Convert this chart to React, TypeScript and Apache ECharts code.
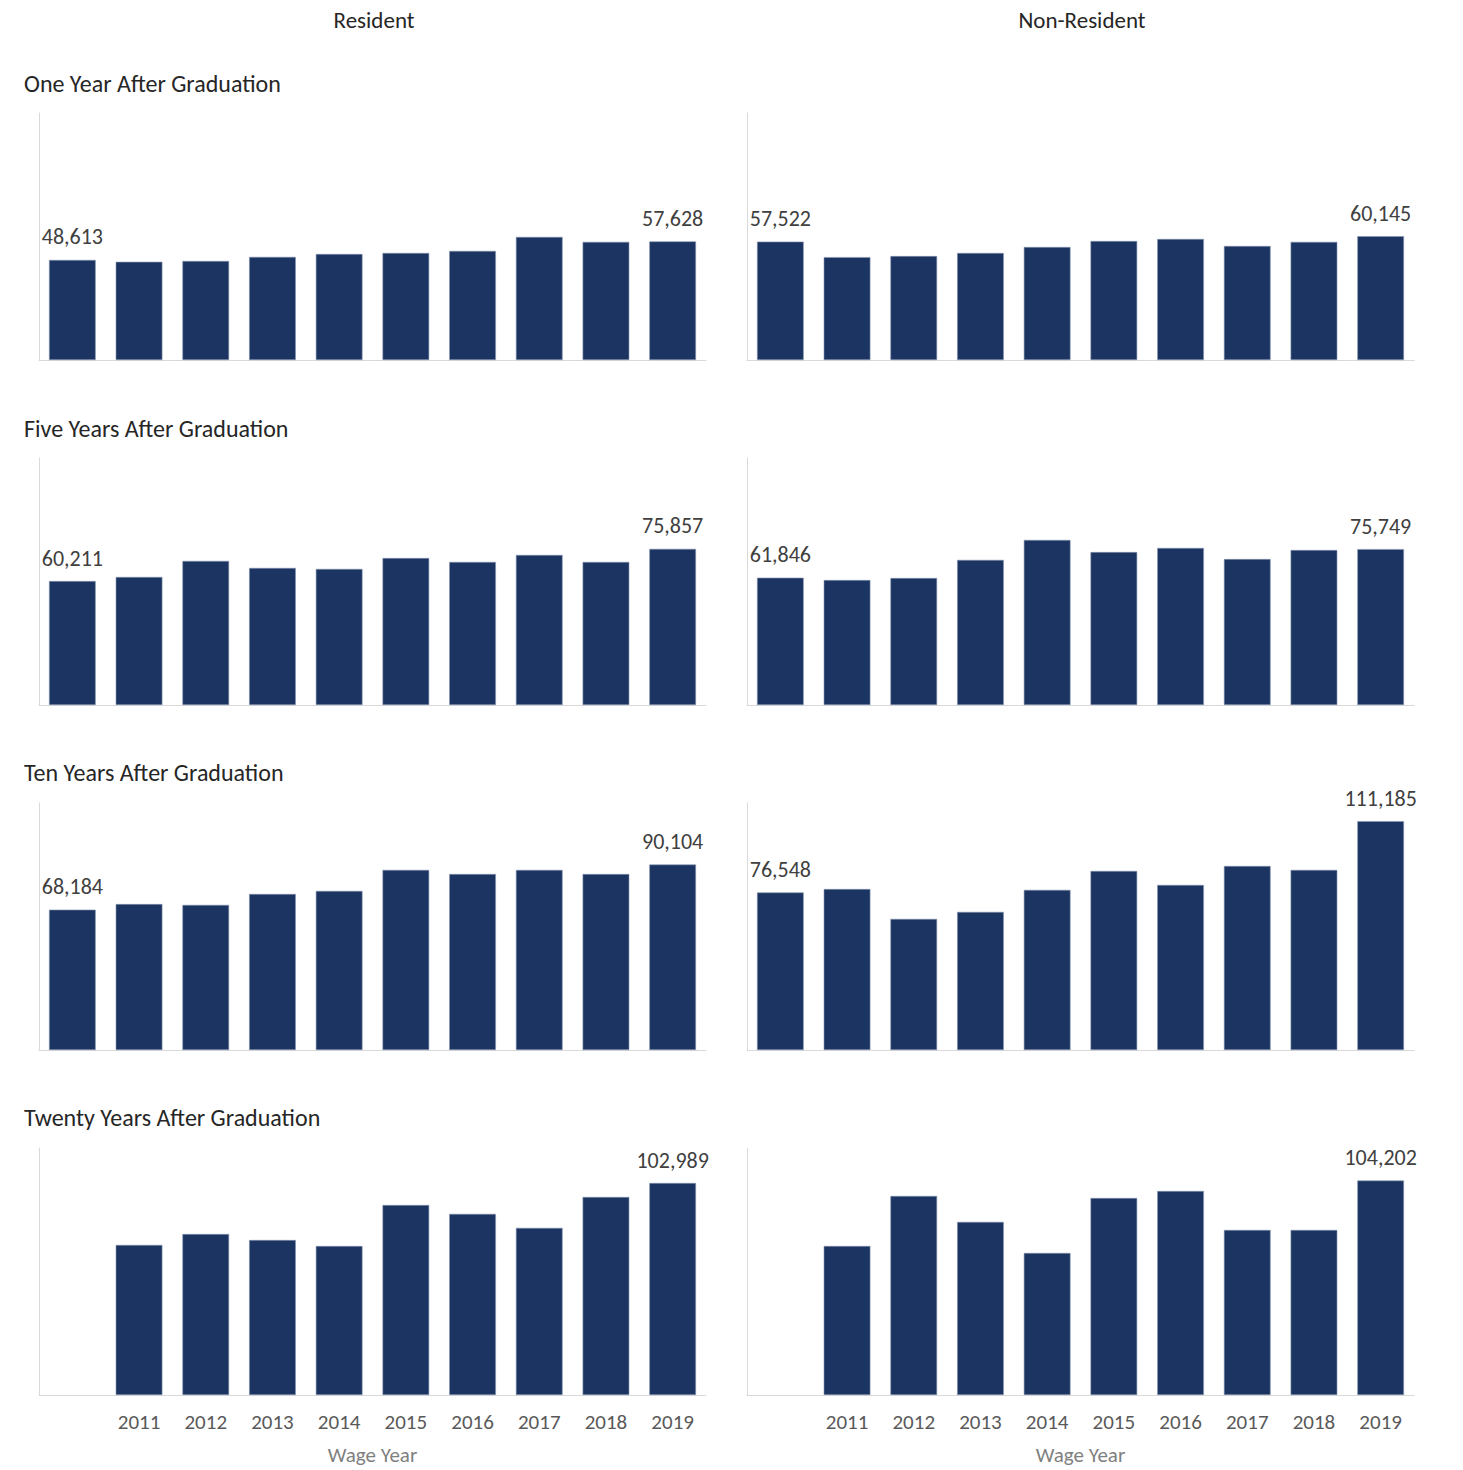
import React, { useEffect, useRef } from "react";
import * as echarts from "echarts";

const categories = ["", "2011", "2012", "2013", "2014", "2015", "2016", "2017", "2018", "2019"];
const columnTitles = ["Resident", "Non-Resident"];
const rowTitles = [
  "One Year After Graduation",
  "Five Years After Graduation",
  "Ten Years After Graduation",
  "Twenty Years After Graduation",
];

const res1 = [48613, 47700, 48100, 50100, 51500, 52000, 53000, 59800, 57400, 57628];
const non1 = [57522, 50000, 50500, 52000, 54900, 57800, 58800, 55400, 57400, 60145];
const res5 = [60211, 62200, 70000, 66600, 66100, 71400, 69500, 72900, 69500, 75857];
const non5 = [61846, 60700, 61700, 70500, 80200, 74300, 76300, 70900, 75300, 75749];
const res10 = [68184, 70900, 70500, 75800, 77300, 87500, 85500, 87500, 85500, 90104];
const non10 = [76548, 78200, 63700, 67100, 77800, 87000, 80200, 89400, 87500, 111185];
const res20 = [null, 72900, 78200, 75300, 72400, 92300, 88000, 81200, 96200, 102989];
const non20 = [null, 72400, 96700, 84100, 69000, 95700, 99100, 80200, 80200, 104202];

const panels = [
  [res1, non1],
  [res5, non5],
  [res10, non10],
  [res20, non20],
];

const FONT = "Carlito, Calibri, 'Open Sans', sans-serif";

export default function App() {
  const ref = useRef<HTMLDivElement>(null);
  useEffect(() => {
    document.body.style.margin = "0";
    const chart = echarts.init(ref.current!, null, { renderer: "svg" });
    const grids: any[] = [];
    const xAxes: any[] = [];
    const yAxes: any[] = [];
    const series: any[] = [];
    const lefts = [39, 747];
    const tops = [113, 458, 803, 1148];
    let idx = 0;
    panels.forEach((row, r) => {
      row.forEach((vals, c) => {
        grids.push({ left: lefts[c], top: tops[r], width: 667, height: 247 });
        const bottom = r === panels.length - 1;
        xAxes.push({
          type: "category",
          gridIndex: idx,
          data: categories,
          axisLine: { show: true, lineStyle: { color: "#d9d9d9", width: 1 } },
          axisTick: { show: false },
          axisLabel: { show: bottom, color: "#595959", fontSize: 21, fontFamily: FONT, margin: 16 },
          name: bottom ? "Wage Year" : "",
          nameLocation: "middle",
          nameGap: 49,
          nameTextStyle: { color: "#808080", fontSize: 21, fontFamily: FONT },
        });
        yAxes.push({
          type: "value",
          gridIndex: idx,
          min: 0,
          max: 120000,
          axisLine: { show: true, lineStyle: { color: "#d9d9d9", width: 1 } },
          axisTick: { show: false },
          axisLabel: { show: false },
          splitLine: { show: false },
        });
        let firstIdx = vals.findIndex((v) => v !== null);
        const lastIdx = vals.length - 1;
        if (r === panels.length - 1) firstIdx = -1;
        series.push({
          type: "bar",
          xAxisIndex: idx,
          yAxisIndex: idx,
          barCategoryGap: "30%",
          itemStyle: { color: "#1b3461", borderColor: "#8796b0", borderWidth: 0.6 },
          data: vals.map((v, i) => ({
            value: v === null ? "-" : v,
            label: {
              show: i === firstIdx || i === lastIdx,
              position: "top",
              distance: 12,
              color: "#404040",
              fontSize: 22,
              fontFamily: FONT,
              formatter: (p: any) => Number(p.value).toLocaleString("en-US"),
            },
          })),
        });
        idx++;
      });
    });
    const titles: any[] = [];
    columnTitles.forEach((t, c) => {
      titles.push({
        text: t,
        left: [369, 1077][c],
        top: 3,
        textAlign: "center",
        textStyle: { color: "#262626", fontSize: 23, fontWeight: "normal", fontFamily: FONT },
      });
    });
    rowTitles.forEach((t, r) => {
      titles.push({
        text: t,
        left: 19,
        top: [66, 411, 755, 1100][r],
        textStyle: { color: "#262626", fontSize: 24, fontWeight: "normal", fontFamily: FONT },
      });
    });
    chart.setOption({
      animation: false,
      backgroundColor: "#ffffff",
      title: titles,
      grid: grids,
      xAxis: xAxes,
      yAxis: yAxes,
      series,
    });
    return () => chart.dispose();
  }, []);
  return <div ref={ref} style={{ width: 1463, height: 1470 }} />;
}
